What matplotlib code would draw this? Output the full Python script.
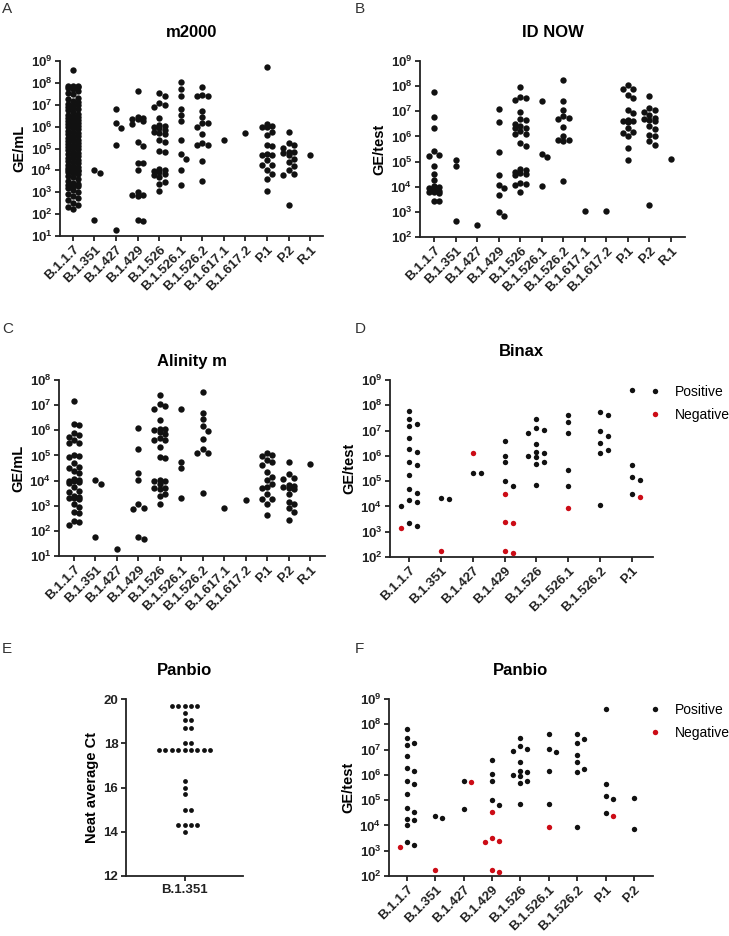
import numpy as np
import matplotlib
matplotlib.use('Agg')
import matplotlib.pyplot as plt
from matplotlib.ticker import FixedLocator, FuncFormatter, NullLocator
from matplotlib.lines import Line2D

plt.rcParams['font.family'] = 'Liberation Sans'
plt.rcParams['mathtext.fontset'] = 'custom'
plt.rcParams['mathtext.rm'] = 'Liberation Sans'
plt.rcParams['mathtext.bf'] = 'Liberation Sans:bold'

# ---- data (log10 copies per sample) ----
cats_all = ['B.1.1.7', 'B.1.351', 'B.1.427', 'B.1.429', 'B.1.526', 'B.1.526.1',
            'B.1.526.2', 'B.1.617.1', 'B.1.617.2', 'P.1', 'P.2', 'R.1']
cats_binax = ['B.1.1.7', 'B.1.351', 'B.1.427', 'B.1.429', 'B.1.526', 'B.1.526.1',
              'B.1.526.2', 'P.1']
cats_panbio = cats_binax + ['P.2']

m2000 = [
    [8.59, 7.88, 7.86, 7.84, 7.81, 7.79, 7.76, 7.71, 7.63, 7.52, 7.47, 7.33, 7.26, 7.18,
     7.11, 7.05, 7.01, 6.97, 6.90, 6.86, 6.79, 6.74, 6.66, 6.60, 6.52, 6.49, 6.44, 6.41,
     6.37, 6.31, 6.24, 6.22, 6.17, 6.12, 6.08, 6.03, 5.99, 5.93, 5.88, 5.81, 5.77, 5.71,
     5.66, 5.58, 5.55, 5.49, 5.47, 5.41, 5.36, 5.33, 5.27, 5.21, 5.16, 5.12, 5.05, 5.01,
     4.96, 4.91, 4.84, 4.80, 4.73, 4.69, 4.64, 4.58, 4.55, 4.49, 4.44, 4.37, 4.33, 4.26,
     4.20, 4.14, 4.09, 4.06, 4.03, 4.01, 3.99, 3.97, 3.94, 3.88, 3.83, 3.76, 3.68, 3.60,
     3.52, 3.44, 3.37, 3.33, 3.30, 3.27, 3.21, 3.12, 3.02, 2.94, 2.85, 2.74, 2.66, 2.53,
     2.42, 2.31, 2.22],
    [3.89, 4.01, 1.73],
    [6.79, 5.95, 6.15, 5.14, 1.27],
    [7.64, 6.45, 6.33, 6.40, 6.28, 6.12, 6.36, 5.28, 5.11, 4.33, 4.35, 4.01, 2.88, 2.85,
     2.87, 3.00, 1.68, 1.75],
    [7.55, 7.38, 7.06, 7.00, 6.88, 6.38, 6.07, 6.02, 5.95, 5.85, 5.75, 5.72, 5.39, 5.31,
     4.88, 4.85, 4.07, 4.02, 3.98, 3.92, 3.85, 3.79, 3.72, 3.48, 3.40, 3.05, 5.68, 5.99],
    [8.06, 7.72, 7.42, 6.80, 6.52, 6.25, 5.38, 4.73, 4.50, 4.03, 3.33],
    [7.83, 7.45, 7.38, 7.40, 6.72, 6.46, 6.18, 6.15, 6.00, 5.65, 5.25, 5.18, 5.15, 4.43, 3.50],
    [5.39],
    [5.69],
    [8.72, 6.12, 6.05, 6.00, 5.98, 5.74, 5.62, 5.15, 5.12, 4.76, 4.69, 4.46, 4.26, 4.23,
     4.02, 3.85, 3.62, 3.08, 4.70],
    [5.75, 5.25, 5.18, 5.02, 4.85, 4.83, 4.78, 4.72, 4.54, 4.38, 4.18, 4.00, 3.85, 3.78, 2.42],
    [4.69],
]

idnow = [
    [7.78, 6.76, 6.32, 5.42, 5.25, 5.22, 4.83, 4.50, 4.28, 4.02, 3.96, 3.88, 3.84, 3.80,
     3.78, 3.75, 3.98, 3.42, 3.42],
    [5.06, 4.83, 2.65],
    [2.46],
    [7.08, 6.59, 5.39, 4.46, 4.05, 3.68, 3.96, 3.00, 2.84],
    [7.98, 7.54, 7.58, 7.45, 6.98, 6.69, 6.65, 6.50, 6.42, 6.35, 6.32, 6.22, 6.10, 6.08,
     5.75, 5.62, 4.72, 4.65, 4.58, 4.55, 4.52, 4.48, 4.13, 4.10, 4.08, 3.77],
    [7.42, 5.19, 5.32, 4.03],
    [8.25, 7.42, 7.05, 6.80, 6.74, 6.70, 6.39, 6.00, 5.85, 5.84, 5.83, 4.24],
    [3.02],
    [3.02],
    [8.05, 7.88, 7.87, 7.65, 7.52, 7.06, 6.92, 6.66, 6.60, 6.57, 6.35, 6.16, 6.14, 6.00,
     5.53, 5.07, 6.62],
    [7.62, 7.12, 7.05, 6.98, 6.85, 6.72, 6.68, 6.66, 6.60, 6.42, 6.30, 6.05, 6.00, 5.80,
     5.66, 3.28],
    [5.12],
]

alinity = [
    [7.18, 6.25, 6.20, 5.88, 5.80, 5.72, 5.62, 5.50, 5.48, 5.00, 4.96, 4.95, 4.70, 4.55,
     4.50, 4.30, 4.05, 4.02, 4.00, 3.98, 3.95, 3.92, 3.75, 3.55, 3.40, 3.35, 3.32, 3.30,
     3.25, 3.05, 2.95, 2.75, 2.70, 2.40, 2.35, 2.22, 3.60, 4.40],
    [3.86, 4.02, 1.74],
    [1.28],
    [6.10, 5.25, 4.31, 4.02, 2.90, 3.05, 2.87, 1.68, 1.77],
    [7.40, 7.05, 6.85, 6.95, 6.41, 6.05, 6.00, 5.95, 5.85, 5.70, 5.62, 5.35, 4.95, 4.88,
     4.02, 3.97, 3.85, 3.70, 3.65, 3.45, 3.40, 3.05, 3.72, 3.98, 5.60, 6.07],
    [6.83, 4.75, 4.49, 3.32],
    [7.54, 6.70, 6.44, 6.17, 5.98, 5.67, 5.11, 5.11, 5.27, 3.52],
    [2.92],
    [3.23],
    [5.02, 4.98, 5.10, 4.75, 4.62, 4.35, 4.15, 4.02, 3.88, 3.75, 3.70, 3.45, 3.28, 3.26,
     3.05, 2.63, 4.82],
    [4.75, 4.25, 4.08, 3.82, 3.75, 3.72, 3.68, 3.45, 3.15, 3.08, 2.92, 2.75, 2.43, 4.10, 3.80],
    [4.66],
]

binax_pos = [
    [7.78, 7.26, 6.71, 6.29, 6.16, 5.74, 5.63, 5.24, 4.68, 4.53, 4.24, 4.00, 4.19, 3.35,
     3.24, 7.45, 7.19],
    [4.28, 4.35],
    [5.33, 5.34],
    [6.58, 6.01, 5.74, 5.00, 4.79],
    [7.45, 6.91, 7.12, 7.02, 6.48, 6.12, 5.95, 6.00, 6.16, 5.68, 5.76, 4.83],
    [7.63, 7.32, 6.89, 5.46, 4.81],
    [7.72, 7.60, 6.78, 6.97, 6.50, 6.13, 6.25, 4.05],
    [8.60, 5.64, 5.16, 5.04, 4.48],
]
binax_neg = [[3.13], [2.22], [6.12], [4.51, 3.37, 3.36, 2.16, 2.24], [], [3.93], [], [4.36]]

panbio_pos = [
    [7.80, 7.27, 7.47, 7.20, 6.74, 6.29, 6.17, 5.76, 5.63, 5.25, 4.53, 4.69, 4.26, 4.20,
     4.00, 3.36, 3.24],
    [4.30, 4.36],
    [5.75, 4.63],
    [6.58, 6.03, 5.74, 5.00, 4.80],
    [7.47, 6.93, 7.14, 7.02, 6.49, 6.12, 5.96, 6.00, 6.16, 5.68, 5.76, 4.84],
    [7.63, 7.02, 6.89, 6.16, 4.83],
    [7.61, 7.27, 7.41, 6.78, 6.50, 6.13, 6.25, 3.94],
    [8.60, 5.64, 5.16, 5.05, 4.48],
    [5.10, 3.85],
]
panbio_neg = [[3.15], [2.24], [5.71], [4.52, 3.39, 3.50, 3.36, 2.17, 2.25], [], [3.94], [],
              [4.36], []]

# neat average Ct, Panbio, B.1.351
panbio_ct = [19.7, 19.7, 19.7, 19.7, 19.7, 19.35, 19.05, 19.05, 18.7, 18.7, 18.0, 18.0,
             17.7, 17.7, 17.7, 17.7, 17.7, 17.7, 17.7, 17.7, 17.7, 16.3, 16.0, 15.7,
             15.0, 15.0, 14.3, 14.3, 14.3, 14.3, 14.0]

BLACK = '#111111'
RED = '#cc0c16'
W, H = 729, 936
TICK_FS = 9.5

fig = plt.figure(figsize=(W / 100, H / 100), dpi=100)


def make_ax(l, t, r, b):
    ax = fig.add_axes([l / W, 1 - b / H, (r - l) / W, (b - t) / H])
    ax.spines['top'].set_visible(False)
    ax.spines['right'].set_visible(False)
    for s in ['left', 'bottom']:
        ax.spines[s].set_linewidth(1.3)
        ax.spines[s].set_color('#222222')
    ax.tick_params(direction='out', length=3.5, width=1.3, color='#222222',
                   labelsize=TICK_FS, labelcolor='#222222', pad=2)
    ax.patch.set_alpha(0)
    return ax, (r - l), (b - t)


def swarm(vals, px_y, step, coll, maxk):
    # simple beeswarm: offsets in pixels
    vals = np.asarray(vals, dtype=float)
    offs = np.zeros(len(vals))
    placed = []
    cands = [0]
    for k in range(1, maxk + 1):
        cands += [k, -k]
    for i in np.argsort(-vals, kind='stable'):
        y = vals[i] * px_y
        best, bestd = 0, -1.0
        for c in cands:
            x = c * step
            d = min([np.hypot(x - px, y - py) for px, py in placed], default=1e9)
            if d >= coll:
                best = c
                break
            if d > bestd:
                bestd, best = d, c
        offs[i] = best * step
        placed.append((best * step, y))
    return offs


def log_panel(rect, cats, pos, neg, lo, hi, xpad, size, step, coll, maxk,
              title, ylabel, title_pad):
    ax, wpx, hpx = make_ax(*rect)
    n = len(cats)
    xlim = (-xpad[0], n - 1 + xpad[1])
    px_x = wpx / (xlim[1] - xlim[0])
    px_y = hpx / (hi - lo)
    for i in range(n):
        vals = list(pos[i]) + (list(neg[i]) if neg is not None else [])
        if not vals:
            continue
        offs = swarm(vals, px_y, step, coll, maxk) / px_x
        xs = i + offs
        ys = 10 ** np.asarray(vals)
        npos = len(pos[i])
        ax.scatter(xs[:npos], ys[:npos], s=size, color=BLACK, linewidths=0, zorder=3,
                   clip_on=False)
        if npos < len(vals):
            ax.scatter(xs[npos:], ys[npos:], s=size, color=RED, linewidths=0, zorder=3,
                       clip_on=False)
    ax.set_yscale('log')
    ax.set_ylim(10 ** lo, 10 ** hi)
    ax.set_xlim(*xlim)
    ax.yaxis.set_major_locator(FixedLocator([10.0 ** k for k in range(lo, hi + 1)]))
    ax.yaxis.set_minor_locator(NullLocator())
    ax.yaxis.set_major_formatter(FuncFormatter(
        lambda v, p: r'$\mathbf{10^{%d}}$' % int(round(np.log10(v)))))
    ax.set_xticks(range(n))
    ax.set_xticklabels(cats, rotation=45, ha='right', va='top', rotation_mode='anchor',
                       fontweight='bold', fontsize=TICK_FS)
    ax.set_ylabel(ylabel, fontsize=10.5, fontweight='bold', labelpad=3)
    ax.set_title(title, fontsize=12, fontweight='bold', pad=title_pad)
    return ax


log_panel((60, 61, 323, 236), cats_all, m2000, None, 1, 9, (0.6, 0.6), 21, 5.4, 5.4, 1,
          'm2000', 'GE/mL', 17)
log_panel((420, 61, 685, 237), cats_all, idnow, None, 2, 9, (0.65, 0.65), 21, 5.4, 5.4, 1,
          'ID NOW', 'GE/test', 17)
log_panel((59, 380, 325, 556), cats_all, alinity, None, 1, 8, (0.7, 0.7), 21, 5.4, 5.4, 1,
          'Alinity m', 'GE/mL', 10)
axd = log_panel((390, 380, 653, 557), cats_binax, binax_pos, binax_neg, 2, 9, (0.6, 0.66),
                15, 8, 6.5, 1, 'Binax', 'GE/test', 17)
axf = log_panel((389, 699, 653, 876), cats_panbio, panbio_pos, panbio_neg, 2, 9, (0.63, 0.67),
                15, 7, 6.5, 1, 'Panbio', 'GE/test', 17)

# E: Ct values
axe, wpx, hpx = make_ax(126, 699, 243, 876)
offs = swarm(panbio_ct, hpx / 8.0, 6.4, 6.0, 5) / (wpx / 2.0)
axe.scatter(offs, panbio_ct, s=12, color=BLACK, linewidths=0, zorder=3)
axe.set_xlim(-1, 1)
axe.set_ylim(12, 20)
axe.set_yticks([12, 14, 16, 18, 20])
axe.set_xticks([0])
axe.set_xticklabels(['B.1.351'], fontweight='bold', fontsize=TICK_FS)
for lab in axe.get_yticklabels():
    lab.set_fontweight('bold')
axe.set_ylabel('Neat average Ct', fontsize=10.5, fontweight='bold', labelpad=3)
axe.set_title('Panbio', fontsize=12, fontweight='bold', pad=17)

# legends for D and F
handles = [Line2D([], [], marker='o', linestyle='none', markersize=3.9, color=BLACK,
                  markeredgewidth=0),
           Line2D([], [], marker='o', linestyle='none', markersize=3.9, color=RED,
                  markeredgewidth=0)]
for ax, top in [(axd, 385), (axf, 703)]:
    ax.legend(handles, ['Positive', 'Negative'], loc='upper left',
              bbox_to_anchor=(648 / W, 1 - top / H), bbox_transform=fig.transFigure,
              frameon=False, borderpad=0, borderaxespad=0, handlelength=1.0,
              handletextpad=0.9, labelspacing=0.65, fontsize=10)

# panel letters
for letter, x, y in [('A', 2, 2), ('B', 355, 2), ('C', 2, 322), ('D', 355, 322),
                     ('E', 2, 642), ('F', 355, 642)]:
    fig.text(x / W, 1 - y / H, letter, fontsize=11, va='top', ha='left', color='#333333')

fig.savefig('out.png', dpi=100)
